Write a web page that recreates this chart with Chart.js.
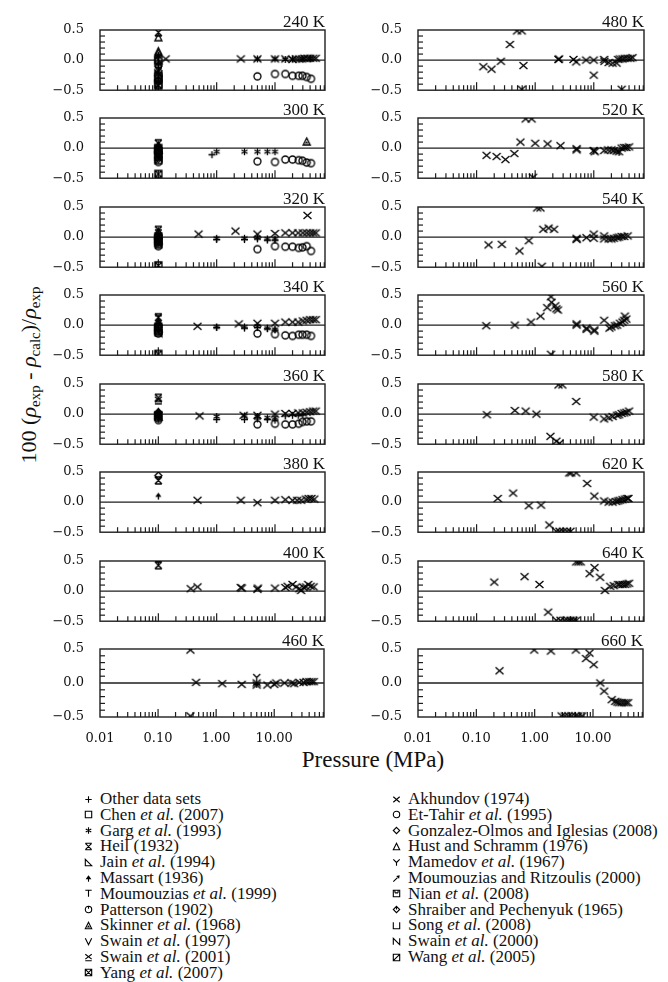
<!DOCTYPE html>
<html><head><meta charset="utf-8">
<script src="https://cdn.jsdelivr.net/npm/chart.js@4.4.1/dist/chart.umd.min.js"></script>
<style>
body{margin:0;background:#fff;width:668px;height:982px;position:relative;overflow:hidden;font-family:"Liberation Serif",serif;color:#111}
canvas.p{position:absolute}
.leg{position:absolute;height:18px;white-space:nowrap;font-size:17px;line-height:18px}
.leg canvas{position:absolute;top:2.5px}
.leg span{position:absolute;top:0}
#ytitle{position:absolute;left:30px;top:375px;transform:translate(-50%,-50%) rotate(-90deg);white-space:nowrap;font-size:22px}
#ytitle sub{font-size:15px;vertical-align:-4px}
#xtitle{position:absolute;left:373px;top:760px;transform:translate(-50%,-50%);white-space:nowrap;font-size:23px}
</style></head><body>
<div id="ytitle">100 (<i>ρ</i><sub>exp</sub> - <i>ρ</i><sub>calc</sub>)/<i>ρ</i><sub>exp</sub></div>
<div id="xtitle">Pressure (MPa)</div>
<script>
// ---- data: [temperature K, pressure MPa, 100(ρexp-ρcalc)/ρexp] ----
const TEMPS = [240,300,320,340,360,380,400,460,480,520,540,560,580,620,640,660];
const X_TICK_LABELS = ['0.01','0.10','1.00','10.00'];
const Y_TICK_LABELS = ['−0.5','0.0','0.5'];

const OTHER = [[240,0.1,0.08],[240,0.1,-0.05],[240,0.1,-0.12],[240,0.1,-0.2],[240,0.1,-0.3],[240,0.1,-0.38],
 [300,0.1,0.03],[300,0.1,-0.03],[300,0.1,-0.1],[300,0.83,-0.11],
 [320,0.1,0.05],[320,0.1,-0.06],[320,1.0,-0.04],[320,3.0,-0.04],[320,5.0,-0.03],[320,7.4,-0.05],[320,10,-0.05],
 [340,0.1,0.02],[340,0.1,-0.08],[340,1.0,-0.04],[340,3.0,-0.05],[340,5.0,-0.04],[340,7.4,-0.06],[340,10,-0.08],
 [360,0.1,0.0],[360,0.1,-0.06],[360,1.0,-0.09],[360,3.0,-0.09],[360,5.0,-0.08],[360,7.4,-0.09],[360,10,-0.1],
 [360,15,-0.03],[360,20,-0.02],[360,25,-0.02],[360,30,-0.01],[460,5.0,-0.02]];
const CHEN = [[240,0.1,-0.02],[300,0.1,0.0],[320,0.1,-0.02],[340,0.1,-0.03],[360,0.1,-0.02]];
const GARG = [[240,5,0.02],[240,10,0.02],[240,15,0.01],[240,20,0.02],[240,30,0.02],[240,40,0.02],
 [300,1.0,-0.06],[300,3.0,-0.06],[300,5.0,-0.06],[300,7.4,-0.06],[300,10,-0.06],
 [320,1.0,-0.02],[320,3.0,-0.02],[320,5.0,-0.01],[320,7.4,-0.03],[320,10,-0.03],
 [340,1.0,-0.03],[340,3.0,-0.03],[340,5.0,-0.02],[340,7.4,-0.05],[340,10,-0.07],
 [360,1.0,-0.04],[360,3.0,-0.03],[360,5.0,-0.04],[360,7.4,-0.06],[360,10,-0.06]];
const HEIL = [[240,0.1,0.46],[300,0.1,0.08],[320,0.1,0.12],[340,0.1,0.13],[360,0.1,0.27],[380,0.1,0.36],[400,0.1,0.43]];
const JAIN = [[240,0.1,0.0],[300,0.1,-0.02],[320,0.1,-0.05],[340,0.1,-0.05],[360,0.1,-0.04]];
const MASSART = [[240,0.1,0.05],[300,0.1,0.02],[320,0.1,0.0],[340,0.1,0.0],[360,0.1,0.01],[380,0.1,0.1]];
const MOUM1999 = [[240,0.1,-0.08],[300,0.1,-0.05],[320,0.1,0.06],[340,0.1,0.1],[360,0.1,-0.03]];
const PATTERSON = [[240,0.1,-0.35],[300,0.1,-0.08],[320,0.1,-0.1],[340,0.1,-0.1],[360,0.1,-0.07]];
const SKINNER = [[240,0.1,0.12],[300,35,0.11],[320,0.1,0.04],[340,0.1,0.03],[360,0.1,0.03]];
const SWAIN1997 = [[240,0.1,-0.15],[300,0.1,-0.12],[320,0.1,-0.08],[340,0.1,-0.07],[360,0.1,-0.06]];
const SWAIN2001 = [[240,0.1,-0.25],[300,0.1,-0.14],[320,0.1,-0.12],[340,0.1,-0.12],[360,0.1,0.23]];
const YANG = [[240,0.1,-0.42],[300,0.1,-0.43],[320,0.1,-0.47],[340,0.1,-0.48]];
const AKHUNDOV = [
 [240,0.134,0.02],[240,2.6,0.02],[240,5.0,0.02],[240,10,0.02],[240,15,0.02],[240,20,0.01],[240,23,0.02],[240,26,0.02],[240,29,0.02],[240,32,0.03],[240,36,0.03],[240,40,0.03],[240,45,0.03],[240,50,0.03],
 [320,0.49,0.05],[320,2.1,0.10],[320,5.0,0.05],[320,10,0.06],[320,15,0.07],[320,20,0.07],[320,25,0.07],[320,30,0.07],[320,35,0.07],[320,36,0.36],[320,40,0.07],[320,45,0.07],[320,50,0.07],
 [340,0.47,-0.02],[340,2.4,0.02],[340,5.0,0.03],[340,10,0.03],[340,15,0.05],[340,20,0.05],[340,25,0.05],[340,30,0.07],[340,35,0.08],[340,40,0.09],[340,45,0.09],[340,50,0.09],
 [360,0.51,-0.03],[360,2.9,-0.02],[360,5.0,-0.02],[360,10,0.0],[360,15,0.01],[360,20,0.01],[360,25,0.02],[360,30,0.02],[360,35,0.03],[360,40,0.04],[360,45,0.05],[360,50,0.05],
 [380,0.47,0.03],[380,2.6,0.03],[380,5.0,-0.01],[380,10,0.03],[380,15,0.04],[380,20,0.03],[380,24,0.03],[380,28,0.03],[380,34,0.05],[380,38,0.06],[380,42,0.06],[380,47,0.05],
 [400,0.36,0.04],[400,0.47,0.07],[400,2.6,0.06],[400,2.7,0.05],[400,5.0,0.03],[400,5.1,0.05],[400,10,0.05],[400,15,0.06],[400,16.5,0.08],[400,20,0.11],[400,23,0.07],[400,26,0.04],[400,28,0.01],[400,31,0.06],[400,34,0.07],[400,37,0.11],[400,41,0.08],[400,46,0.07],
 [460,0.36,0.485],[460,0.36,-0.485],[460,0.45,0.01],[460,1.27,-0.01],[460,2.76,-0.02],[460,5.0,-0.03],[460,5.0,0.0],[460,7.6,-0.03],[460,10,-0.02],[460,10.8,0.0],[460,15,0.0],[460,20,0.0],[460,22,-0.01],[460,27,0.01],[460,32,0.01],[460,36,0.02],[460,40,0.02],[460,44,0.02],[460,48,0.02],
 [480,0.13,-0.11],[480,0.18,-0.15],[480,0.26,-0.02],[480,0.37,0.26],[480,0.49,0.485],[480,0.59,0.485],[480,0.63,-0.09],[480,0.59,-0.485],[480,2.5,0.01],[480,2.55,0.02],[480,4.5,0.01],[480,5.0,-0.03],[480,7.4,0.0],[480,10,0.0],[480,10,-0.25],[480,15,0.01],[480,15.2,-0.02],[480,18,-0.04],[480,21,-0.05],[480,24.5,-0.05],[480,26,0.01],[480,28,0.02],[480,30,-0.485],[480,31,0.02],[480,34,0.03],[480,38,0.03],[480,42,0.03],[480,46,0.04],
 [520,0.148,-0.12],[520,0.22,-0.14],[520,0.31,-0.19],[520,0.44,-0.09],[520,0.56,0.1],[520,0.69,0.485],[520,0.87,0.485],[520,0.92,-0.485],[520,1.0,0.08],[520,1.63,0.07],[520,2.7,0.04],[520,5.1,-0.01],[520,5.1,-0.03],[520,10,-0.04],[520,10.4,-0.06],[520,15,-0.04],[520,17.5,-0.03],[520,20,-0.03],[520,22,-0.04],[520,24.5,-0.05],[520,27,-0.06],[520,30,0.0],[520,33,0.01],[520,36,0.01],[520,40,0.02],
 [540,0.16,-0.13],[540,0.27,-0.12],[540,0.54,-0.23],[540,0.78,-0.06],[540,1.08,0.485],[540,1.23,0.485],[540,1.3,-0.485],[540,1.37,0.13],[540,1.7,0.15],[540,2.1,0.13],[540,5.1,-0.02],[540,5.1,-0.04],[540,7.5,-0.01],[540,10,0.05],[540,10,-0.02],[540,15,0.02],[540,15,-0.03],[540,18,-0.03],[540,20,-0.03],[540,22,-0.02],[540,25,-0.01],[540,27,0.0],[540,30,0.01],[540,33,0.01],[540,38,0.02],
 [560,0.146,-0.01],[560,0.45,0.0],[560,0.85,0.05],[560,1.23,0.15],[560,1.6,0.29],[560,1.86,0.47],[560,1.9,0.38],[560,1.86,-0.485],[560,2.2,0.32],[560,2.3,0.27],[560,2.45,0.25],[560,5.1,0.0],[560,5.1,0.02],[560,7.5,-0.05],[560,7.6,-0.07],[560,10.2,-0.1],[560,10.2,-0.08],[560,15,0.08],[560,18.5,-0.05],[560,20,-0.03],[560,23,-0.01],[560,25,0.0],[560,28,0.03],[560,31,0.05],[560,33,0.08],[560,34,0.15],[560,36,0.1],
 [580,0.15,-0.01],[580,0.45,0.06],[580,0.69,0.05],[580,1.05,0.0],[580,1.82,-0.37],[580,2.3,-0.45],[580,2.5,0.485],[580,2.9,0.485],[580,2.6,-0.485],[580,5.0,0.21],[580,10,-0.05],[580,15,-0.08],[580,18,-0.06],[580,21,-0.04],[580,25,-0.02],[580,27,-0.01],[580,30,0.01],[580,33,0.02],[580,36,0.03],[580,40,0.05],
 [620,0.23,0.06],[620,0.42,0.15],[620,0.78,-0.06],[620,1.26,-0.05],[620,1.74,-0.38],[620,2.3,-0.485],[620,2.6,-0.485],[620,3.0,-0.485],[620,3.5,-0.485],[620,4.0,-0.485],[620,3.8,0.485],[620,4.1,0.485],[620,5.0,0.485],[620,7.7,0.31],[620,10.2,0.1],[620,15,0.02],[620,18,0.0],[620,21,0.0],[620,24,0.01],[620,26,0.02],[620,28,0.03],[620,31,0.04],[620,34,0.05],[620,37,0.06],[620,39,0.06],
 [640,0.2,0.15],[640,0.66,0.24],[640,1.18,0.11],[640,1.66,-0.35],[640,2.3,-0.485],[640,2.7,-0.485],[640,3.2,-0.485],[640,3.6,-0.485],[640,4.0,-0.485],[640,4.5,-0.485],[640,5.0,-0.485],[640,5.0,0.485],[640,5.5,0.485],[640,6.0,0.485],[640,8.5,0.29],[640,10.3,0.39],[640,12.8,0.23],[640,15.5,0.01],[640,19,0.08],[640,22,0.09],[640,26,0.11],[640,28,0.11],[640,31,0.11],[640,34,0.11],[640,37,0.12],[640,40,0.13],
 [660,0.25,0.18],[660,0.98,0.485],[660,1.9,0.47],[660,5.1,0.485],[660,7.6,0.36],[660,8.7,0.44],[660,10.3,0.27],[660,13.3,0.0],[660,15.5,-0.12],[660,21,-0.245],[660,24,-0.27],[660,26,-0.28],[660,28,-0.29],[660,31,-0.29],[660,34,-0.29],[660,37,-0.29],[660,40,-0.29],
 [660,2.9,-0.485],[660,3.3,-0.485],[660,3.8,-0.485],[660,4.3,-0.485],[660,5.0,-0.485],[660,5.6,-0.485],[660,6.5,-0.485]];
const ETTAHIR = [
 [240,5,-0.27],[240,10,-0.23],[240,15,-0.23],[240,20,-0.26],[240,25.5,-0.26],[240,29.6,-0.26],[240,35,-0.28],[240,41.5,-0.31],
 [300,0.1,-0.23],[300,5,-0.22],[300,10,-0.23],[300,15,-0.19],[300,20,-0.19],[300,25.5,-0.2],[300,29.6,-0.21],[300,35,-0.24],[300,41.5,-0.25],
 [320,0.1,-0.15],[320,5,-0.2],[320,10,-0.15],[320,15,-0.16],[320,20,-0.16],[320,25.5,-0.18],[320,29.6,-0.17],[320,35,-0.15],[320,41.5,-0.23],
 [340,0.1,-0.14],[340,5,-0.14],[340,10,-0.15],[340,15,-0.17],[340,20,-0.18],[340,25.5,-0.16],[340,29.6,-0.16],[340,35,-0.16],[340,41.5,-0.18],
 [360,0.1,-0.1],[360,5,-0.17],[360,10,-0.16],[360,15,-0.17],[360,20,-0.17],[360,25.5,-0.16],[360,29.6,-0.13],[360,35,-0.12],[360,41.5,-0.12]];
const GONZALEZ = [[240,0.1,-0.1],[300,0.1,-0.06],[320,0.1,-0.03],[340,0.1,-0.01],[360,0.1,0.03],[380,0.1,0.44]];
const HUST = [[240,0.1,0.38],[240,0.1,0.15],[300,0.1,0.05],[320,0.1,0.09],[340,0.1,0.06]];
const MAMEDOV = [[400,0.1,0.47],[460,5.0,0.08],[520,10,-0.05],[520,27,-0.07]];
const MOUMRITZ = [[240,0.1,-0.18],[300,0.1,-0.16],[320,0.1,-0.13]];
const NIAN = [[240,0.1,-0.28],[300,0.1,-0.1],[320,0.1,-0.07]];
const SHRAIBER = [[240,0.1,-0.33],[300,0.1,-0.18],[360,0.1,0.02]];
const SONG = [[240,0.1,-0.3],[300,0.1,-0.04],[320,0.1,0.02],[340,0.1,-0.09]];
const SWAIN2000 = [[240,0.1,-0.22],[300,0.1,-0.15],[320,0.1,-0.11],[340,0.1,-0.13]];
const WANG = [[240,0.1,-0.4],[300,0.1,-0.2]];

const LEFT_LEGEND = [
 ['Other data sets','plus',OTHER],['Chen <i>et al.</i> (2007)','square',CHEN],['Garg <i>et al.</i> (1993)','asterisk',GARG],
 ['Heil (1932)','hourglass',HEIL],['Jain <i>et al.</i> (1994)','rtri',JAIN],['Massart (1936)','arrowUp',MASSART],
 ['Moumouzias <i>et al.</i> (1999)','tee',MOUM1999],['Patterson (1902)','circTick',PATTERSON],['Skinner <i>et al.</i> (1968)','triFill',SKINNER],
 ['Swain <i>et al.</i> (1997)','vee',SWAIN1997],['Swain <i>et al.</i> (2001)','xbar',SWAIN2001],['Yang <i>et al.</i> (2007)','sqx',YANG]];
const RIGHT_LEGEND = [
 ['Akhundov (1974)','x',AKHUNDOV],['Et-Tahir <i>et al.</i> (1995)','circle',ETTAHIR],['Gonzalez-Olmos and Iglesias (2008)','diamond',GONZALEZ],
 ['Hust and Schramm (1976)','tri',HUST],['Mamedov <i>et al.</i> (1967)','wye',MAMEDOV],['Moumouzias and Ritzoulis (2000)','arrowNE',MOUMRITZ],
 ['Nian <i>et al.</i> (2008)','sqTop',NIAN],['Shraiber and Pechenyuk (1965)','diamondTick',SHRAIBER],['Song <i>et al.</i> (2008)','cup',SONG],
 ['Swain <i>et al.</i> (2000)','enn',SWAIN2000],['Wang <i>et al.</i> (2005)','sqSlash',WANG]];

// ---- markers ----
function drawMk(ctx, t, c, s){
  const L=(a,b,d,e)=>{ctx.moveTo(a,b);ctx.lineTo(d,e);};
  ctx.beginPath();
  switch(t){
    case 'plus': L(c-s,c,c+s,c); L(c,c-s,c,c+s); break;
    case 'square': ctx.rect(c-s,c-s,2*s,2*s); break;
    case 'asterisk': for(const a of [90,30,150]){const r=a*Math.PI/180;L(c-s*Math.cos(r),c-s*Math.sin(r),c+s*Math.cos(r),c+s*Math.sin(r));} break;
    case 'hourglass': L(c-s,c-s,c+s,c-s); L(c-s,c+s,c+s,c+s); L(c-s,c-s,c+s,c+s); L(c+s,c-s,c-s,c+s); break;
    case 'rtri': ctx.moveTo(c-s,c-s); ctx.lineTo(c-s,c+s); ctx.lineTo(c+s,c+s); ctx.closePath(); break;
    case 'arrowUp': L(c,c+s,c,c); ctx.stroke(); ctx.beginPath(); ctx.moveTo(c,c-s); ctx.lineTo(c-s*0.9,c+0.2*s); ctx.lineTo(c+s*0.9,c+0.2*s); ctx.closePath(); ctx.fill(); ctx.beginPath(); break;
    case 'tee': L(c-s,c-s,c+s,c-s); L(c,c-s,c,c+s); break;
    case 'circTick': ctx.arc(c,c,s,0,Math.PI*2); L(c,c-s,c,c-s*0.2); break;
    case 'triFill': ctx.moveTo(c,c-s); ctx.lineTo(c+s,c+s); ctx.lineTo(c-s,c+s); ctx.closePath(); ctx.stroke(); ctx.beginPath(); ctx.moveTo(c,c-s*0.1); ctx.lineTo(c+s*0.5,c+s*0.6); ctx.lineTo(c-s*0.5,c+s*0.6); ctx.closePath(); ctx.fill(); ctx.beginPath(); break;
    case 'vee': ctx.moveTo(c-s,c-s); ctx.lineTo(c,c+s); ctx.lineTo(c+s,c-s); break;
    case 'xbar': L(c-s,c-s,c+s,c+s*0.5); L(c+s,c-s,c-s,c+s*0.5); L(c-s,c+s,c+s,c+s); break;
    case 'sqx': ctx.rect(c-s,c-s,2*s,2*s); L(c-s,c-s,c+s,c+s); L(c+s,c-s,c-s,c+s); break;
    case 'x': L(c-s,c-s*0.85,c+s,c+s*0.85); L(c+s,c-s*0.85,c-s,c+s*0.85); break;
    case 'circle': ctx.arc(c,c,s,0,Math.PI*2); break;
    case 'diamond': ctx.moveTo(c,c-s); ctx.lineTo(c+s,c); ctx.lineTo(c,c+s); ctx.lineTo(c-s,c); ctx.closePath(); break;
    case 'tri': ctx.moveTo(c,c-s); ctx.lineTo(c+s,c+s); ctx.lineTo(c-s,c+s); ctx.closePath(); break;
    case 'wye': L(c-s,c-s,c,c); L(c+s,c-s,c,c); L(c,c,c,c+s); break;
    case 'arrowNE': L(c-s,c+s,c+s*0.3,c-s*0.3); ctx.stroke(); ctx.beginPath(); ctx.moveTo(c+s,c-s); ctx.lineTo(c-s*0.1,c-s*0.8); ctx.lineTo(c+s*0.8,c+s*0.1); ctx.closePath(); ctx.fill(); ctx.beginPath(); break;
    case 'sqTop': ctx.rect(c-s,c-s,2*s,2*s); L(c-s*0.5,c-s*0.2,c+s*0.5,c-s*0.2); L(c-s*0.5,c-s,c-s*0.5,c-s*0.2); L(c+s*0.5,c-s,c+s*0.5,c-s*0.2); break;
    case 'diamondTick': ctx.moveTo(c,c-s); ctx.lineTo(c+s,c); ctx.lineTo(c,c+s); ctx.lineTo(c-s,c); ctx.closePath(); L(c,c-s,c,c); break;
    case 'cup': ctx.moveTo(c-s,c-s); ctx.lineTo(c-s,c+s); ctx.lineTo(c+s,c+s); ctx.lineTo(c+s,c-s); break;
    case 'enn': ctx.moveTo(c-s,c+s); ctx.lineTo(c-s,c-s); ctx.lineTo(c+s,c+s); ctx.lineTo(c+s,c-s); break;
    case 'sqSlash': ctx.rect(c-s,c-s,2*s,2*s); L(c-s,c+s,c+s,c-s); break;
  }
  ctx.stroke();
}
function mkCanvas(t, size, lw){
  const cv=document.createElement('canvas'); cv.width=13; cv.height=13;
  const ctx=cv.getContext('2d'); ctx.strokeStyle='#000'; ctx.fillStyle='#000'; ctx.lineWidth=lw;
  drawMk(ctx,t,6.5,size); return cv;
}
const SIZE={x:4.0,circle:3.5};

// ---- panels ----
const framePlugin={
  id:'frame',
  beforeDatasetsDraw(chart,args,opts){
    const {ctx,chartArea:a,scales:{x,y}}=chart;
    ctx.save(); ctx.strokeStyle='#1e1e1e'; ctx.lineWidth=1.4;
    const L=(a1,b1,a2,b2)=>{ctx.beginPath();ctx.moveTo(a1,b1);ctx.lineTo(a2,b2);ctx.stroke();};
    const y0=y.getPixelForValue(0); L(a.left,y0,a.right,y0);
    ctx.lineWidth=1.2;
    for(let d=-2;d<=1;d++) for(let m=1;m<=9;m++){ const v=m*Math.pow(10,d); if(v<=x.min*1.0001||v>=x.max) continue;
      const px=x.getPixelForValue(v); L(px,a.bottom,px,a.bottom-(m===1?8:5)); }
    for(let k=-4;k<=4;k++){ if(k===0) continue; const py=y.getPixelForValue(k/10); L(a.left,py,a.left+5,py); }
    ctx.lineWidth=1.4;
    ctx.strokeRect(a.left,a.top,a.right-a.left,a.bottom-a.top);
    ctx.fillStyle='#111'; ctx.font='17px "Liberation Serif"'; ctx.textAlign='right'; ctx.textBaseline='alphabetic';
    ctx.fillText(opts.label,a.right,a.top-3.5);
    ctx.restore();
  }
};
const ALL=[...LEFT_LEGEND,...RIGHT_LEGEND];
const drawOrder=[...RIGHT_LEGEND.slice(0,2),...LEFT_LEGEND,...RIGHT_LEGEND.slice(2)];
const images={}; ALL.forEach(s=>{images[s[1]]=mkCanvas(s[1],SIZE[s[1]]||3.5,1.35);});

TEMPS.forEach((T,i)=>{
  const col=i<8?0:1, row=i%8, bottom=row===7;
  const plotLeft=col?418:100, plotW=col?228:227;
  const plotTop=Math.round(30+88.47*row);
  const cv=document.createElement('canvas'); cv.className='p';
  const W=60+plotW+3, H=20+68+(bottom?26:8);
  cv.width=W; cv.height=H; cv.style.width=W+'px'; cv.style.height=H+'px';
  cv.style.left=(plotLeft-60)+'px'; cv.style.top=(plotTop-20)+'px';
  document.body.appendChild(cv);
  const datasets=drawOrder.map(s=>({label:s[0],data:s[2].filter(p=>p[0]===T).map(p=>({x:p[1],y:p[2]})),
    pointStyle:images[s[1]],pointRadius:4,showLine:false,clip:0})).filter(d=>d.data.length);
  new Chart(cv,{type:'scatter',data:{datasets},
    options:{responsive:false,animation:false,events:[],
      layout:{padding:{top:20,right:3,bottom:bottom?0:8,left:0}},
      plugins:{legend:{display:false},tooltip:{enabled:false},frame:{label:T+' K'}},
      scales:{
        x:{type:'logarithmic',min:0.01,max:72,grid:{display:false},border:{display:false},
          afterFit:s=>{s.height=bottom?26:0;},
          ticks:{display:bottom,autoSkip:false,maxRotation:0,padding:6,color:'#111',font:{family:'DejaVu Serif',size:13},
            callback:v=>{const l=Math.log10(v);return Math.abs(l-Math.round(l))<1e-6?X_TICK_LABELS[Math.round(l)+2]||'':'';}}},
        y:{min:-0.5,max:0.5,grid:{display:false},border:{display:false},afterFit:s=>{s.width=60;},
          ticks:{stepSize:0.5,padding:8,color:'#111',font:{family:'DejaVu Serif',size:13},
            callback:v=>Y_TICK_LABELS[Math.round(v*2)+1]}}
      }},
    plugins:[framePlugin]});
});

// ---- legend ----
function addLegend(list,x0){
  list.forEach((s,i)=>{
    const d=document.createElement('div'); d.className='leg';
    d.style.left=(x0-20)+'px'; d.style.top=(799+15.8*i-9)+'px';
    const c=mkCanvas(s[1],3.2,1.1); c.style.left='1.5px';
    const sp=document.createElement('span'); sp.style.left='20px'; sp.innerHTML=s[0];
    d.appendChild(c); d.appendChild(sp); document.body.appendChild(d);
  });
}
addLegend(LEFT_LEGEND,100); addLegend(RIGHT_LEGEND,408);
</script></body></html>
